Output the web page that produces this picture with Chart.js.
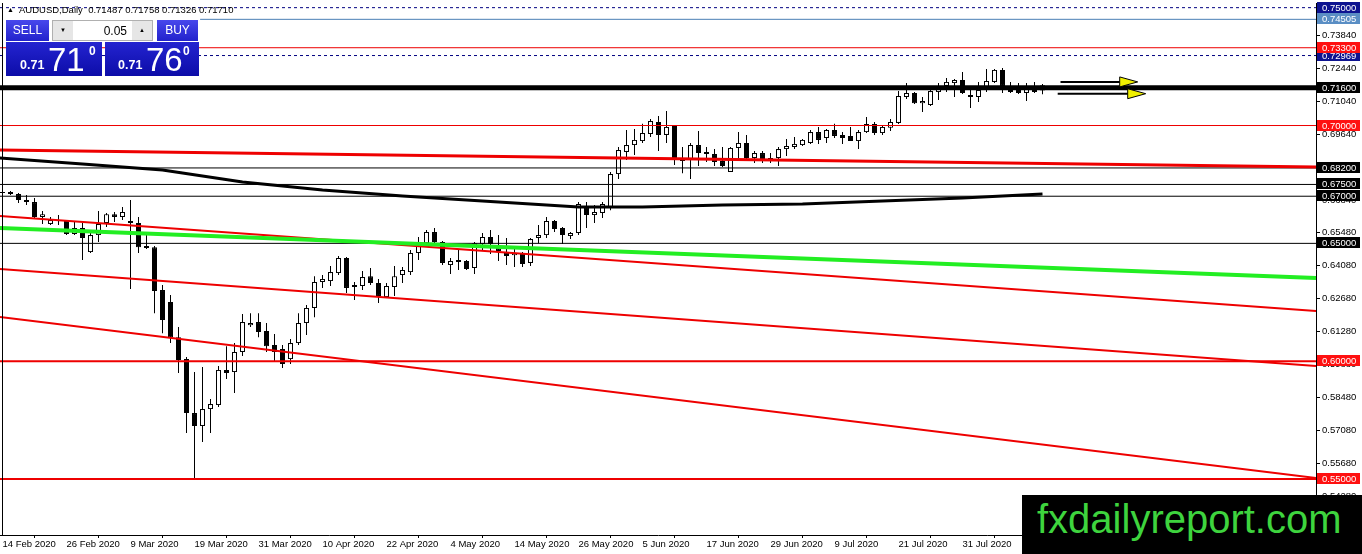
<!DOCTYPE html>
<html><head><meta charset="utf-8">
<script src="https://cdn.jsdelivr.net/npm/chart.js@4.4.1/dist/chart.umd.min.js"></script>
<style>
html,body{margin:0;padding:0;background:#fff;overflow:hidden;}
#wrap{position:relative;width:1362px;height:554px;}
#c{position:absolute;left:0;top:0;}
.ov{position:absolute;font-family:"Liberation Sans",Arial,sans-serif;white-space:nowrap;line-height:1;}
.btn{position:absolute;background:linear-gradient(#4848ec,#2222cc);color:#fff;font-family:"Liberation Sans",Arial,sans-serif;font-size:12px;text-align:center;line-height:21px;}
.big{position:absolute;background:linear-gradient(#2424d0,#0c0ca8);color:#fff;}
</style></head><body>
<div id="wrap">
<canvas id="c" width="1362" height="554"></canvas>
<div class="ov" style="left:7px;top:6px;font-size:7px;">▲</div>
<div class="ov" style="left:19px;top:5px;font-size:9.5px;color:#000;">AUDUSD,Daily&nbsp; 0.71487 0.71758 0.71326 0.71710</div>
<div class="btn" style="left:6px;top:20px;width:43px;height:21px;">SELL</div>
<div style="position:absolute;left:52px;top:20px;width:101px;height:21px;background:#fff;border:1px solid #b0b0b0;box-sizing:border-box;">
  <div class="ov" style="left:0;top:0;width:20px;height:19px;background:#e6e6e6;font-size:6px;text-align:center;line-height:19px;">▼</div>
  <div class="ov" style="right:25px;top:4px;font-size:12px;color:#000;">0.05</div>
  <div class="ov" style="right:0;top:0;width:20px;height:19px;background:#e6e6e6;font-size:6px;text-align:center;line-height:19px;">▲</div>
</div>
<div class="btn" style="left:157px;top:20px;width:41px;height:21px;">BUY</div>
<div class="big" style="left:6px;top:42px;width:96px;height:34px;">
  <div class="ov" style="left:14px;top:17px;font-size:12.5px;font-weight:bold;">0.71</div>
  <div class="ov" style="left:42px;top:1px;font-size:33px;">71</div>
  <div class="ov" style="left:83px;top:3px;font-size:12px;font-weight:bold;">0</div>
</div>
<div class="big" style="left:105px;top:42px;width:94px;height:34px;">
  <div class="ov" style="left:13px;top:17px;font-size:12.5px;font-weight:bold;">0.71</div>
  <div class="ov" style="left:41px;top:1px;font-size:33px;">76</div>
  <div class="ov" style="left:78px;top:3px;font-size:12px;font-weight:bold;">0</div>
</div>
<div style="position:absolute;left:1022px;top:495px;width:340px;height:59px;background:#000;">
  <div class="ov" style="left:15px;top:4px;font-size:40px;color:#3ed43e;">fxdailyreport.com</div>
</div>
</div>
<script>
// ---- data ----
const xTickIdx = [0,8,16,24,32,40,48,56,64,72,80,88,96,104,112,120];
const xTickLabels = ['14 Feb 2020','26 Feb 2020','9 Mar 2020','19 Mar 2020','31 Mar 2020','10 Apr 2020','22 Apr 2020','4 May 2020','14 May 2020','26 May 2020','5 Jun 2020','17 Jun 2020','29 Jun 2020','9 Jul 2020','21 Jul 2020','31 Jul 2020'];
const yTicks = [0.5428,0.5568,0.5708,0.5848,0.5988,0.6128,0.6268,0.6408,0.6548,0.6684,0.6824,0.6964,0.7104,0.7244,0.7384];

const opens = [
0.6718,0.6718,0.6709,0.6684,0.6675,0.6612,0.6582,0.6599,0.6595,0.6540,
0.6565,0.6463,0.6535,0.6586,0.6624,0.6612,0.6595,0.6586,0.6489,0.6484,
0.6302,0.6251,0.6102,0.6009,0.5780,0.5725,0.5797,0.5814,0.5963,0.5954,
0.6039,0.6153,0.6166,0.6128,0.6069,0.6052,0.6009,0.6077,0.6162,0.6226,
0.6336,0.6340,0.6374,0.6438,0.6315,0.6319,0.6361,0.6332,0.6272,0.6315,
0.6366,0.6378,0.6459,0.6501,0.6548,0.6506,0.6408,0.6429,0.6425,0.6395,
0.6497,0.6527,0.6480,0.6463,0.6450,0.6455,0.6417,0.6523,0.6535,0.6595,
0.6565,0.6531,0.6544,0.6654,0.6620,0.6629,0.6654,0.6794,0.6888,0.6917,
0.6934,0.6964,0.7015,0.6960,0.6998,0.6858,0.6854,0.6917,0.6888,0.6879,
0.6849,0.6803,0.6905,0.6926,0.6862,0.6883,0.6862,0.6862,0.6900,0.6909,
0.6917,0.6926,0.6972,0.6947,0.6981,0.6960,0.6956,0.6934,0.6972,0.7006,
0.6968,0.6990,0.7011,0.7121,0.7138,0.7095,0.7087,0.7142,0.7168,0.7180,
0.7193,0.7129,0.7121,0.7163,0.7185,0.7236,0.7163,0.7151,0.7138,0.7159,
0.71487];
const highs = [
0.6722,0.6722,0.6714,0.6705,0.6692,0.6637,0.6612,0.6620,0.6599,0.6591,
0.6586,0.6557,0.6637,0.6629,0.6633,0.6654,0.6684,0.6612,0.6535,0.6489,
0.6323,0.6281,0.6145,0.6018,0.5954,0.5975,0.5840,0.5980,0.6064,0.6077,
0.6200,0.6204,0.6204,0.6162,0.6115,0.6069,0.6094,0.6204,0.6238,0.6361,
0.6366,0.6404,0.6446,0.6442,0.6336,0.6383,0.6395,0.6349,0.6332,0.6404,
0.6400,0.6472,0.6527,0.6557,0.6565,0.6510,0.6438,0.6472,0.6429,0.6506,
0.6544,0.6557,0.6535,0.6523,0.6484,0.6463,0.6523,0.6578,0.6612,0.6599,
0.6569,0.6548,0.6675,0.6675,0.6663,0.6675,0.6803,0.6909,0.6981,0.6985,
0.7007,0.7028,0.7040,0.7062,0.7002,0.6909,0.6926,0.6977,0.6909,0.6900,
0.6909,0.6909,0.6973,0.6960,0.6892,0.6892,0.6883,0.6909,0.6943,0.6951,
0.6943,0.6981,0.6994,0.6985,0.7007,0.6973,0.6994,0.6981,0.7036,0.7015,
0.7002,0.7028,0.7146,0.7180,0.7142,0.7121,0.7151,0.7180,0.7202,0.7197,
0.7227,0.7168,0.7185,0.7240,0.7240,0.7244,0.7185,0.7180,0.7180,0.7185,
0.71758];
const lows = [
0.6709,0.6705,0.6671,0.6663,0.6608,0.6582,0.6578,0.6578,0.6535,0.6535,
0.6429,0.6459,0.6506,0.6569,0.6591,0.6599,0.6306,0.6459,0.6476,0.6204,
0.6119,0.6077,0.5950,0.5695,0.5500,0.5657,0.5695,0.5806,0.5925,0.5865,
0.6022,0.6145,0.6102,0.6039,0.6001,0.5971,0.5988,0.6069,0.6111,0.6187,
0.6311,0.6319,0.6366,0.6289,0.6260,0.6302,0.6323,0.6247,0.6268,0.6277,
0.6332,0.6366,0.6429,0.6501,0.6501,0.6408,0.6370,0.6387,0.6387,0.6370,
0.6472,0.6455,0.6425,0.6408,0.6400,0.6400,0.6404,0.6501,0.6523,0.6548,
0.6497,0.6518,0.6535,0.6565,0.6586,0.6608,0.6641,0.6773,0.6854,0.6875,
0.6926,0.6951,0.6892,0.6926,0.6832,0.6798,0.6773,0.6828,0.6845,0.6828,
0.6824,0.6803,0.6858,0.6858,0.6841,0.6841,0.6841,0.6828,0.6871,0.6900,
0.6913,0.6922,0.6922,0.6926,0.6947,0.6922,0.6934,0.6900,0.6968,0.6960,
0.6960,0.6977,0.7006,0.7112,0.7091,0.7057,0.7083,0.7108,0.7142,0.7121,
0.7134,0.7074,0.7100,0.7142,0.7180,0.7138,0.7138,0.7134,0.7104,0.7138,
0.71326];
const closes = [
0.6714,0.6709,0.6684,0.6675,0.6612,0.6624,0.6599,0.6595,0.6540,0.6565,
0.6523,0.6535,0.6582,0.6624,0.6612,0.6633,0.6586,0.6484,0.6480,0.6298,
0.6175,0.6102,0.6005,0.5780,0.5725,0.5797,0.5818,0.5963,0.5950,0.6039,
0.6166,0.6162,0.6124,0.6064,0.6039,0.5988,0.6077,0.6162,0.6226,0.6336,
0.6349,0.6378,0.6438,0.6311,0.6323,0.6357,0.6332,0.6277,0.6319,0.6361,
0.6387,0.6459,0.6493,0.6548,0.6506,0.6417,0.6425,0.6421,0.6391,0.6501,
0.6527,0.6497,0.6468,0.6446,0.6459,0.6412,0.6518,0.6535,0.6595,0.6561,
0.6535,0.6544,0.6667,0.6620,0.6633,0.6667,0.6794,0.6896,0.6917,0.6939,
0.6968,0.7019,0.6960,0.6994,0.6858,0.6849,0.6917,0.6883,0.6879,0.6845,
0.6828,0.6905,0.6926,0.6862,0.6883,0.6858,0.6858,0.6900,0.6913,0.6922,
0.6939,0.6972,0.6939,0.6981,0.6956,0.6947,0.6934,0.6972,0.7006,0.6968,
0.6994,0.7015,0.7125,0.7138,0.7095,0.7104,0.7146,0.7159,0.7185,0.7193,
0.7138,0.7121,0.7151,0.7189,0.7236,0.7168,0.7142,0.7138,0.7155,0.7142,
0.71710];

// moving average (read at selected bars)
const maIdx = [-1,10,20,30,40,50,60,72,80,90,100,110,120,130];
const maVal = [0.6864,0.6837,0.6811,0.6760,0.6726,0.6701,0.6680,0.6654,0.6654,0.6663,0.6667,0.6680,0.6692,0.6709];

// horizontal levels (and the bar index where each starts; null = left edge)
const hLevels = [0.75,0.74505,0.72969,0.733,0.716,0.70,0.682,0.675,0.67,0.65,0.60,0.55];
const hLevelStartIdx = [null,24.7,null,null,null,null,null,null,null,null,null,null];
// sloped lines: value at left edge, value at right edge
const redTrendStart = [0.6616,0.6391,0.6188];
const redTrendEnd   = [0.6213,0.5980,0.5504];
const greenStart = 0.6565, greenEnd = 0.6353;
const redFlatStart = 0.6896, redFlatEnd = 0.6824;
// arrows (bar index from, bar index tip, price)
const arrowFrom = [132.25,131.9];
const arrowTip  = [141.9,142.9];
const arrowPrice = [0.7185,0.7135];

// ---- styles ----
const levelColor = ['#000080','#4a7fb5','#000080','#ee0000','#000000','#ee0000','#000000','#000000','#000000','#000000','#ee0000','#ee0000'];
const levelWidth = [1,1,1,1,5,1,1,1,1,1,2,2];
const levelDash  = [[3,3],[],[3,3],[],[],[],[],[],[],[],[],[]];
const boxColor = ['#0d1390','#5a8ec4','#0d1390','#ff1010','#000000','#ff1010','#000000','#000000','#000000','#000000','#ff1010','#ff1010'];

const X_MIN = -0.3125, X_MAX = 164.1875;
const Y_MIN = 0.52627, Y_MAX = 0.75198;

Chart.defaults.font.family = '"Liberation Sans", Arial, sans-serif';
Chart.defaults.font.size = 9.5;
Chart.defaults.color = '#000';

const datasets = [];
// candle bodies
datasets.push({type:'bar', order:10, grouped:false, barThickness:5, borderWidth:1, borderColor:'#000', borderSkipped:false, inflateAmount:0, minBarLength:1,
  backgroundColor: opens.map((o,i)=> closes[i]>=o ? '#ffffff' : '#000000'),
  data: opens.map((o,i)=>({x:i, y:[o, closes[i]]}))});
// wicks
datasets.push({type:'bar', order:11, grouped:false, barThickness:1, borderWidth:0, inflateAmount:0, backgroundColor:'#000',
  data: lows.map((l,i)=>({x:i, y:[l, highs[i]]}))});
// levels
hLevels.forEach((v,k)=>{
  const x0 = hLevelStartIdx[k] === null ? X_MIN : hLevelStartIdx[k];
  datasets.push({type:'line', order:3, data:[{x:x0,y:v},{x:X_MAX,y:v}], borderColor:levelColor[k], borderWidth:levelWidth[k], borderDash:levelDash[k], pointRadius:0, tension:0, fill:false});
});
// red trendlines
redTrendStart.forEach((v,k)=>{
  datasets.push({type:'line', order:2, data:[{x:X_MIN,y:v},{x:X_MAX,y:redTrendEnd[k]}], borderColor:'#ee0000', borderWidth:2, pointRadius:0, fill:false});
});
datasets.push({type:'line', order:2, data:[{x:X_MIN,y:redFlatStart},{x:X_MAX,y:redFlatEnd}], borderColor:'#ee0000', borderWidth:3, pointRadius:0, fill:false});
datasets.push({type:'line', order:1, data:[{x:X_MIN,y:greenStart},{x:X_MAX,y:greenEnd}], borderColor:'#22ee22', borderWidth:4, pointRadius:0, fill:false});
// moving average
datasets.push({type:'line', order:1, data:maIdx.map((x,i)=>({x:x,y:maVal[i]})), borderColor:'#000', borderWidth:3, pointRadius:0, tension:0, fill:false});

const overlayPlugin = {
  id:'overlay',
  afterDatasetsDraw(chart){
    const ctx = chart.ctx, xs = chart.scales.x, ys = chart.scales.y;
    ctx.save();
    // left frame
    ctx.strokeStyle = '#000'; ctx.lineWidth = 1;
    ctx.beginPath(); ctx.moveTo(2.5, chart.chartArea.top); ctx.lineTo(2.5, chart.chartArea.bottom); ctx.stroke();
    // arrows
    arrowFrom.forEach((f,k)=>{
      const x0 = xs.getPixelForValue(f), x1 = xs.getPixelForValue(arrowTip[k]), y = ys.getPixelForValue(arrowPrice[k]);
      const head = 18;
      ctx.strokeStyle = '#000'; ctx.lineWidth = 2;
      ctx.beginPath(); ctx.moveTo(x0, y); ctx.lineTo(x1 - head + 2, y); ctx.stroke();
      ctx.beginPath(); ctx.moveTo(x1 - head, y - 5); ctx.lineTo(x1, y); ctx.lineTo(x1 - head, y + 5); ctx.closePath();
      ctx.fillStyle = '#f0f000'; ctx.fill(); ctx.lineWidth = 1; ctx.stroke();
    });
    ctx.restore();
  },
  afterDraw(chart){
    const ctx = chart.ctx, ys = chart.scales.y;
    ctx.save();
    ctx.font = '9.5px "Liberation Sans", Arial, sans-serif';
    ctx.textBaseline = 'middle'; ctx.textAlign = 'left';
    hLevels.forEach((v,k)=>{
      const y = Math.round(ys.getPixelForValue(v));
      ctx.fillStyle = boxColor[k];
      ctx.fillRect(ys.left + 1, y - 6, 43, 11);
      ctx.fillStyle = '#fff';
      ctx.fillText(v.toFixed(5), ys.left + 6, y);
    });
    ctx.restore();
  }
};

new Chart(document.getElementById('c'), {
  type:'bar',
  data:{datasets},
  plugins:[overlayPlugin],
  options:{
    responsive:false, animation:false, devicePixelRatio:1, events:[],
    layout:{padding:{top:3,left:0,right:0,bottom:0}},
    plugins:{legend:{display:false}, tooltip:{enabled:false}},
    scales:{
      x:{type:'linear', position:'bottom', min:X_MIN, max:X_MAX, offset:false,
        grid:{drawOnChartArea:false, drawTicks:true, tickLength:3, color:'#000'},
        border:{display:true, color:'#000', width:1},
        ticks:{autoSkip:false, maxRotation:0, minRotation:0, align:'start', padding:1, color:'#000',
          callback:(v,i)=>xTickLabels[i]},
        afterBuildTicks:s=>{ s.ticks = xTickIdx.map(v=>({value:v})); },
        afterFit:s=>{ s.height = 19; s.paddingLeft = 0; s.paddingRight = 0; }
      },
      y:{type:'linear', position:'right', min:Y_MIN, max:Y_MAX,
        grid:{drawOnChartArea:false, drawTicks:true, tickLength:4, color:'#000'},
        border:{display:true, color:'#000', width:1},
        ticks:{autoSkip:false, padding:2, color:'#000', callback:v=>Number(v).toFixed(5)},
        afterBuildTicks:s=>{ s.ticks = yTicks.map(v=>({value:v})); },
        afterFit:s=>{ s.width = 46; s.paddingTop = 0; s.paddingBottom = 0; }
      }
    }
  }
});
</script>
</body></html>
